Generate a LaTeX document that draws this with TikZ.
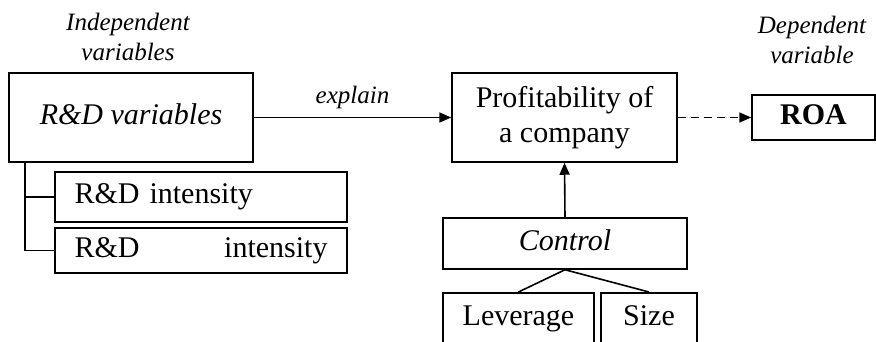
\documentclass[tikz,border=0pt]{standalone}
\usepackage{fontspec}
\setmainfont{Liberation Serif}
\usetikzlibrary{arrows.meta}
\begin{document}
\begin{tikzpicture}[x=1pt,y=-1pt,
  box/.style={draw,line width=1.5pt,inner sep=0pt,text height=20pt,text depth=6pt,font=\fontsize{30}{35}\selectfont},
  hdr/.style={align=center,inner sep=0pt,font=\fontsize{25}{30}\selectfont\itshape},
  link/.style={line width=1.6pt},
  arr/.style={link,-{Triangle[length=12pt,width=10pt]}}]
\useasboundingbox (0,0) rectangle (876,342);
\clip (0,0) rectangle (876,342);
\node[hdr] (indep) at (128,37) {Independent\\variables};
\node[hdr] (dep) at (812,40) {Dependent\\variable};
\node[box,minimum width=244pt,minimum height=89pt,font=\fontsize{30}{35}\selectfont\itshape] (rd) at (131,117.5) {R\&D variables};
\node[box,minimum width=225pt,minimum height=89pt,align=center,text height=,text depth=] (prof) at (564.5,117.5) {Profitability of\\a company};
\node[box,minimum width=123pt,minimum height=45pt,font=\fontsize{30}{35}\selectfont\bfseries] (roa) at (813.5,117.5) {ROA};
\node[box,minimum width=292pt,minimum height=50pt,text width=253pt,align=left] (i1) at (201,197) {R\&D intensity};
\node[box,minimum width=292pt,minimum height=45pt,text width=253pt,align=left] (i2) at (201,250.5) {R\&D\hfill intensity};
\node[box,minimum width=244pt,minimum height=51pt,font=\fontsize{30}{35}\selectfont\itshape] (ctrl) at (565,243.5) {Control};
\node[box,anchor=north,minimum width=151pt,minimum height=52pt] (lev) at (518.5,292) {Leverage};
\node[box,anchor=north,minimum width=96pt,minimum height=52pt] (size) at (649,292) {Size};
\draw[arr] (rd.east) -- node[above=8pt,font=\fontsize{25}{30}\selectfont\itshape,inner sep=0pt] {explain} (prof.west);
\draw[arr,dash pattern=on 8pt off 5pt] (prof.east) -- (roa.west);
\draw[arr] (ctrl.north) -- (prof.south);
\draw[link] (ctrl.south) -- (lev.north);
\draw[link] (ctrl.south) -- (size.north);
\draw[link] ([xshift=17pt]rd.south west) |- (i2.west);
\draw[link] (i1.west) -| ([xshift=17pt]rd.south west);
\end{tikzpicture}
\end{document}
